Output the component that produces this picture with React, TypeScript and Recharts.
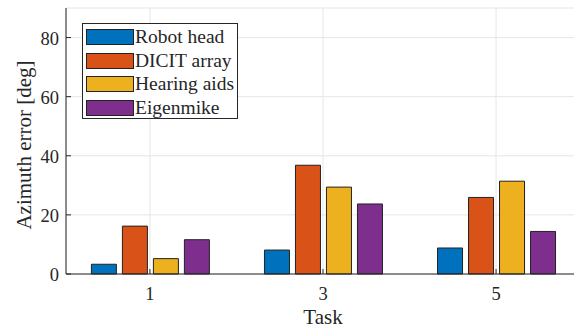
import { BarChart, Bar, XAxis, YAxis, CartesianGrid, Legend } from 'recharts';

const tasks = [1, 3, 5];
const robotHead = [3.3, 8.1, 8.8];
const dicitArray = [16.2, 36.8, 25.9];
const hearingAids = [5.2, 29.4, 31.4];
const eigenmike = [11.6, 23.7, 14.4];

const yTicks = [0, 20, 40, 60, 80];

const series = [
  { key: 'robot', name: 'Robot head', color: '#0072BD', values: robotHead },
  { key: 'dicit', name: 'DICIT array', color: '#D95319', values: dicitArray },
  { key: 'hearing', name: 'Hearing aids', color: '#EDB120', values: hearingAids },
  { key: 'eigen', name: 'Eigenmike', color: '#7E2F8E', values: eigenmike },
];

const data = tasks.map((t, i) => {
  const row: any = { task: t };
  series.forEach((s) => (row[s.key] = s.values[i]));
  return row;
});

const AXIS = '#262626';
const FONT = '"Liberation Serif", "DejaVu Serif", serif';

function BottomTick(p: any) {
  return (
    <g>
      <line x1={p.x} x2={p.x} y1={p.y} y2={p.y - 5} stroke={AXIS} />
      <text x={p.x} y={p.y + 26} textAnchor="middle" fontSize={18.5} fontFamily={FONT} fill={AXIS}>
        {p.payload.value}
      </text>
    </g>
  );
}

function TopTick(p: any) {
  return <line x1={p.x} x2={p.x} y1={p.y} y2={p.y + 5} stroke={AXIS} />;
}

function LeftTick(p: any) {
  return (
    <g>
      <line x1={p.x} x2={p.x + 5} y1={p.y} y2={p.y} stroke={AXIS} />
      <text x={p.x - 7} y={p.y + 7} textAnchor="end" fontSize={18.5} fontFamily={FONT} fill={AXIS}>
        {p.payload.value}
      </text>
    </g>
  );
}

function LegendBox() {
  return (
    <div
      style={{
        position: 'relative',
        boxSizing: 'border-box',
        width: 156,
        height: 96,
        border: `1px solid ${AXIS}`,
        background: '#fff',
        fontFamily: FONT,
        color: AXIS,
        textAlign: 'left',
      }}
    >
      {series.map((s, i) => (
        <div
          key={s.key}
          style={{ position: 'absolute', left: 3, top: 5 + i * 23.6, height: 16, display: 'flex', alignItems: 'center' }}
        >
          <div
            style={{
              boxSizing: 'border-box',
              width: 48,
              height: 16,
              background: s.color,
              border: '1px solid #222',
            }}
          />
          <span style={{ marginLeft: 1, fontSize: 19.5, lineHeight: '16px', whiteSpace: 'nowrap' }}>{s.name}</span>
        </div>
      ))}
    </div>
  );
}

export default function App() {
  return (
    <div style={{ position: 'absolute', left: 0, top: 0, width: 574, height: 328, overflow: 'hidden', background: '#fff' }}>
      <BarChart
        width={600}
        height={328}
        data={data}
        margin={{ top: 8, right: 20, left: 16, bottom: 0 }}
        barSize={25}
        barGap={6}
      >
        <CartesianGrid stroke="#e6e6e6" />
        <XAxis
          dataKey="task"
          type="number"
          domain={[0.03, 5.97]}
          ticks={tasks}
          height={54}
          axisLine={{ stroke: AXIS }}
          tickLine={false}
          tickSize={0}
          tickMargin={0}
          tick={<BottomTick />}
          allowDataOverflow
          label={{ value: 'Task', position: 'insideBottom', offset: 4, fontSize: 21, fontFamily: FONT, fill: AXIS }}
        />
        <XAxis
          xAxisId="top"
          dataKey="task"
          type="number"
          orientation="top"
          domain={[0.03, 5.97]}
          ticks={tasks}
          height={0}
          axisLine={{ stroke: AXIS }}
          tickLine={false}
          tickSize={0}
          tickMargin={0}
          tick={<TopTick />}
          allowDataOverflow
        />
        <YAxis
          type="number"
          domain={[0, 90]}
          ticks={yTicks}
          width={50}
          axisLine={{ stroke: AXIS }}
          tickLine={false}
          tickSize={0}
          tickMargin={0}
          tick={<LeftTick />}
          label={{
            content: () => (
              <text
                x={31}
                y={145}
                transform="rotate(-90 31 145)"
                textAnchor="middle"
                fontSize={21}
                fontFamily={FONT}
                fill={AXIS}
              >
                Azimuth error [deg]
              </text>
            ),
          }}
        />
        <Legend
          layout="vertical"
          align="center"
          verticalAlign="middle"
          wrapperStyle={{ left: 82, top: 23, width: 'auto' }}
          content={() => <LegendBox />}
        />
        {series.map((s) => (
          <Bar
            key={s.key}
            dataKey={s.key}
            name={s.name}
            fill={s.color}
            stroke="#222"
            strokeWidth={1}
            isAnimationActive={false}
          />
        ))}
      </BarChart>
    </div>
  );
}
